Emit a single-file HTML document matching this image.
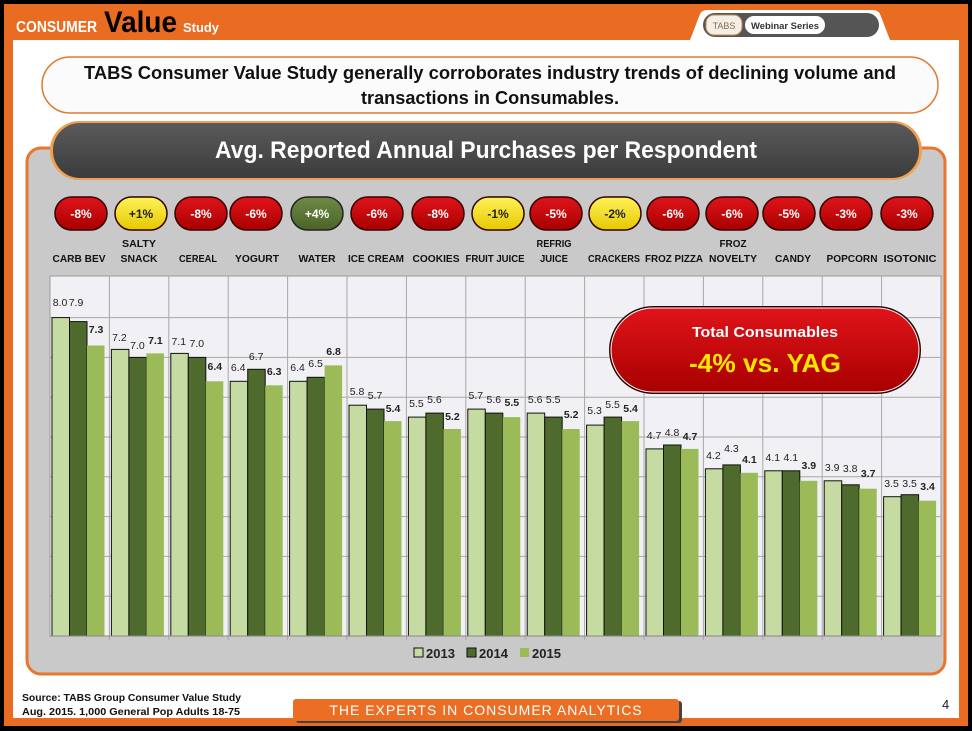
<!DOCTYPE html>
<html><head><meta charset="utf-8"><style>
html,body{margin:0;padding:0;background:#000;}
svg{display:block;font-family:"Liberation Sans",sans-serif;}
</style></head><body>
<svg width="972" height="731" viewBox="0 0 972 731" xmlns="http://www.w3.org/2000/svg">
<defs>
<linearGradient id="red" x1="0" y1="0" x2="0" y2="1"><stop offset="0" stop-color="#e0141a"/><stop offset="1" stop-color="#a80000"/></linearGradient>
<linearGradient id="yel" x1="0" y1="0" x2="0" y2="1"><stop offset="0" stop-color="#fff35a"/><stop offset="1" stop-color="#e6c800"/></linearGradient>
<linearGradient id="grn" x1="0" y1="0" x2="0" y2="1"><stop offset="0" stop-color="#6f8a45"/><stop offset="1" stop-color="#4a6428"/></linearGradient>
<linearGradient id="dark" x1="0" y1="0" x2="0" y2="1"><stop offset="0" stop-color="#5a5a5a"/><stop offset="1" stop-color="#3c3c3c"/></linearGradient>
</defs>
<rect x="0" y="0" width="972" height="731" fill="#000"/>
<rect x="4" y="4" width="964" height="722" fill="#ea6c22"/>
<rect x="13" y="40" width="946" height="678" fill="#fff"/>
<path d="M690 40 L700 14 Q702 10 708 10 L872 10 Q878 10 880 14 L890 40 Z" fill="#fff"/>
<rect x="703" y="13" width="176" height="24" rx="12" fill="#555"/>
<rect x="706" y="15" width="36" height="20" rx="8" fill="#f3efe6" stroke="#c48a50"/>
<text x="724" y="29" font-size="9" text-anchor="middle" fill="#8a6a4a">TABS</text>
<rect x="745" y="16" width="80" height="18" rx="9" fill="#fff"/>
<text x="785" y="29" font-size="9" font-weight="bold" text-anchor="middle" fill="#333" textLength="68" lengthAdjust="spacingAndGlyphs">Webinar Series</text>
<text x="16" y="32" fill="#fff" font-weight="bold" font-size="16" textLength="81" lengthAdjust="spacingAndGlyphs">CONSUMER</text>
<text x="104" y="32" fill="#000" font-weight="bold" font-size="30" textLength="73" lengthAdjust="spacingAndGlyphs">Value</text>
<text x="183" y="32" fill="#fff" font-weight="bold" font-size="13" textLength="36" lengthAdjust="spacingAndGlyphs">Study</text>
<rect x="42" y="57" width="896" height="56" rx="28" fill="#fbfbfb" stroke="#e07a30" stroke-width="1.5"/>
<text x="490" y="79" font-size="18" font-weight="bold" text-anchor="middle" fill="#111" textLength="812" lengthAdjust="spacingAndGlyphs">TABS Consumer Value Study generally corroborates industry trends of declining volume and</text>
<text x="490" y="104" font-size="18" font-weight="bold" text-anchor="middle" fill="#111" textLength="258" lengthAdjust="spacingAndGlyphs">transactions in Consumables.</text>
<rect x="27" y="148" width="918" height="526" rx="14" fill="#c9c9c9" stroke="#e8762c" stroke-width="3"/>
<rect x="50" y="121" width="872" height="59" rx="29" fill="#f0a050"/>
<rect x="53" y="123" width="866" height="55" rx="27" fill="url(#dark)"/>
<text x="486" y="158" font-size="24" font-weight="bold" text-anchor="middle" fill="#fff" textLength="542" lengthAdjust="spacingAndGlyphs">Avg. Reported Annual Purchases per Respondent</text>
<g font-size="12" font-weight="bold" text-anchor="middle">
<rect x="55" y="197" width="52" height="33" rx="16.5" fill="url(#red)" stroke="#300" stroke-width="1.5"/><text x="81" y="218" fill="#fff">-8%</text>
<rect x="115" y="197" width="52" height="33" rx="16.5" fill="url(#yel)" stroke="#300" stroke-width="1.5"/><text x="141" y="218" fill="#222">+1%</text>
<rect x="175" y="197" width="52" height="33" rx="16.5" fill="url(#red)" stroke="#300" stroke-width="1.5"/><text x="201" y="218" fill="#fff">-8%</text>
<rect x="230" y="197" width="52" height="33" rx="16.5" fill="url(#red)" stroke="#300" stroke-width="1.5"/><text x="256" y="218" fill="#fff">-6%</text>
<rect x="291" y="197" width="52" height="33" rx="16.5" fill="url(#grn)" stroke="#222" stroke-width="1.5"/><text x="317" y="218" fill="#fff">+4%</text>
<rect x="351" y="197" width="52" height="33" rx="16.5" fill="url(#red)" stroke="#300" stroke-width="1.5"/><text x="377" y="218" fill="#fff">-6%</text>
<rect x="412" y="197" width="52" height="33" rx="16.5" fill="url(#red)" stroke="#300" stroke-width="1.5"/><text x="438" y="218" fill="#fff">-8%</text>
<rect x="472" y="197" width="52" height="33" rx="16.5" fill="url(#yel)" stroke="#300" stroke-width="1.5"/><text x="498" y="218" fill="#222">-1%</text>
<rect x="530" y="197" width="52" height="33" rx="16.5" fill="url(#red)" stroke="#300" stroke-width="1.5"/><text x="556" y="218" fill="#fff">-5%</text>
<rect x="589" y="197" width="52" height="33" rx="16.5" fill="url(#yel)" stroke="#300" stroke-width="1.5"/><text x="615" y="218" fill="#222">-2%</text>
<rect x="647" y="197" width="52" height="33" rx="16.5" fill="url(#red)" stroke="#300" stroke-width="1.5"/><text x="673" y="218" fill="#fff">-6%</text>
<rect x="706" y="197" width="52" height="33" rx="16.5" fill="url(#red)" stroke="#300" stroke-width="1.5"/><text x="732" y="218" fill="#fff">-6%</text>
<rect x="763" y="197" width="52" height="33" rx="16.5" fill="url(#red)" stroke="#300" stroke-width="1.5"/><text x="789" y="218" fill="#fff">-5%</text>
<rect x="820" y="197" width="52" height="33" rx="16.5" fill="url(#red)" stroke="#300" stroke-width="1.5"/><text x="846" y="218" fill="#fff">-3%</text>
<rect x="881" y="197" width="52" height="33" rx="16.5" fill="url(#red)" stroke="#300" stroke-width="1.5"/><text x="907" y="218" fill="#fff">-3%</text>
</g>
<g font-size="10.5" font-weight="bold" text-anchor="middle" fill="#111" lengthAdjust="spacingAndGlyphs">
<text x="79" y="262" textLength="53" lengthAdjust="spacingAndGlyphs">CARB BEV</text>
<text x="139" y="247" textLength="34" lengthAdjust="spacingAndGlyphs">SALTY</text><text x="139" y="262" textLength="37" lengthAdjust="spacingAndGlyphs">SNACK</text>
<text x="198" y="262" textLength="38" lengthAdjust="spacingAndGlyphs">CEREAL</text>
<text x="257" y="262" textLength="44" lengthAdjust="spacingAndGlyphs">YOGURT</text>
<text x="317" y="262" textLength="37" lengthAdjust="spacingAndGlyphs">WATER</text>
<text x="376" y="262" textLength="56" lengthAdjust="spacingAndGlyphs">ICE CREAM</text>
<text x="436" y="262" textLength="47" lengthAdjust="spacingAndGlyphs">COOKIES</text>
<text x="495" y="262" textLength="59" lengthAdjust="spacingAndGlyphs">FRUIT JUICE</text>
<text x="554" y="247" textLength="35" lengthAdjust="spacingAndGlyphs">REFRIG</text><text x="554" y="262" textLength="28" lengthAdjust="spacingAndGlyphs">JUICE</text>
<text x="614" y="262" textLength="52" lengthAdjust="spacingAndGlyphs">CRACKERS</text>
<text x="674" y="262" textLength="58" lengthAdjust="spacingAndGlyphs">FROZ PIZZA</text>
<text x="733" y="247" textLength="27" lengthAdjust="spacingAndGlyphs">FROZ</text><text x="733" y="262" textLength="48" lengthAdjust="spacingAndGlyphs">NOVELTY</text>
<text x="793" y="262" textLength="36" lengthAdjust="spacingAndGlyphs">CANDY</text>
<text x="852" y="262" textLength="51" lengthAdjust="spacingAndGlyphs">POPCORN</text>
<text x="910" y="262" textLength="53" lengthAdjust="spacingAndGlyphs">ISOTONIC</text>
</g>
<rect x="50" y="276" width="891" height="360" fill="#f1f0f4" stroke="#9a9a9a"/>
<g stroke="#a8a8a8" stroke-width="1">
<line x1="50" x2="941" y1="596.2" y2="596.2"/><line x1="50" x2="941" y1="556.4" y2="556.4"/><line x1="50" x2="941" y1="516.6" y2="516.6"/><line x1="50" x2="941" y1="476.8" y2="476.8"/><line x1="50" x2="941" y1="437" y2="437"/><line x1="50" x2="941" y1="397.2" y2="397.2"/><line x1="50" x2="941" y1="357.4" y2="357.4"/><line x1="50" x2="941" y1="317.6" y2="317.6"/>
<line x1="109.4" x2="109.4" y1="276" y2="640"/><line x1="168.8" x2="168.8" y1="276" y2="640"/><line x1="228.2" x2="228.2" y1="276" y2="640"/><line x1="287.6" x2="287.6" y1="276" y2="640"/><line x1="347" x2="347" y1="276" y2="640"/><line x1="406.4" x2="406.4" y1="276" y2="640"/><line x1="465.8" x2="465.8" y1="276" y2="640"/><line x1="525.2" x2="525.2" y1="276" y2="640"/><line x1="584.6" x2="584.6" y1="276" y2="640"/><line x1="644" x2="644" y1="276" y2="640"/><line x1="703.4" x2="703.4" y1="276" y2="640"/><line x1="762.8" x2="762.8" y1="276" y2="640"/><line x1="822.2" x2="822.2" y1="276" y2="640"/><line x1="881.6" x2="881.6" y1="276" y2="640"/>
</g>
<g font-size="10.5" text-anchor="middle" fill="#222">
<g transform="translate(50,0)"><rect x="2" y="317.6" width="17.5" height="318.4" fill="#c6dba2" stroke="#111"/><rect x="19.5" y="321.6" width="17.5" height="314.4" fill="#4e6a2c" stroke="#111"/><rect x="37" y="345.5" width="17.5" height="290.5" fill="#9bbb59"/><text x="10" y="306">8.0</text><text x="26" y="306">7.9</text><text x="46" y="333" font-weight="bold">7.3</text></g>
<g transform="translate(109.4,0)"><rect x="2" y="349.4" width="17.5" height="286.6" fill="#c6dba2" stroke="#111"/><rect x="19.5" y="357.4" width="17.5" height="278.6" fill="#4e6a2c" stroke="#111"/><rect x="37" y="353.4" width="17.5" height="282.6" fill="#9bbb59"/><text x="10" y="341">7.2</text><text x="28" y="349">7.0</text><text x="46" y="344" font-weight="bold">7.1</text></g>
<g transform="translate(168.8,0)"><rect x="2" y="353.4" width="17.5" height="282.6" fill="#c6dba2" stroke="#111"/><rect x="19.5" y="357.4" width="17.5" height="278.6" fill="#4e6a2c" stroke="#111"/><rect x="37" y="381.3" width="17.5" height="254.7" fill="#9bbb59"/><text x="10" y="345">7.1</text><text x="28" y="347">7.0</text><text x="46" y="370" font-weight="bold">6.4</text></g>
<g transform="translate(228.2,0)"><rect x="2" y="381.3" width="17.5" height="254.7" fill="#c6dba2" stroke="#111"/><rect x="19.5" y="369.3" width="17.5" height="266.7" fill="#4e6a2c" stroke="#111"/><rect x="37" y="385.3" width="17.5" height="250.7" fill="#9bbb59"/><text x="10" y="371">6.4</text><text x="28" y="360">6.7</text><text x="46" y="375" font-weight="bold">6.3</text></g>
<g transform="translate(287.6,0)"><rect x="2" y="381.3" width="17.5" height="254.7" fill="#c6dba2" stroke="#111"/><rect x="19.5" y="377.3" width="17.5" height="258.7" fill="#4e6a2c" stroke="#111"/><rect x="37" y="365.4" width="17.5" height="270.6" fill="#9bbb59"/><text x="10" y="371">6.4</text><text x="28" y="367">6.5</text><text x="46" y="355" font-weight="bold">6.8</text></g>
<g transform="translate(347,0)"><rect x="2" y="405.2" width="17.5" height="230.8" fill="#c6dba2" stroke="#111"/><rect x="19.5" y="409.1" width="17.5" height="226.9" fill="#4e6a2c" stroke="#111"/><rect x="37" y="421.1" width="17.5" height="214.9" fill="#9bbb59"/><text x="10" y="395">5.8</text><text x="28" y="399">5.7</text><text x="46" y="412" font-weight="bold">5.4</text></g>
<g transform="translate(406.4,0)"><rect x="2" y="417.1" width="17.5" height="218.9" fill="#c6dba2" stroke="#111"/><rect x="19.5" y="413.1" width="17.5" height="222.9" fill="#4e6a2c" stroke="#111"/><rect x="37" y="429" width="17.5" height="207" fill="#9bbb59"/><text x="10" y="407">5.5</text><text x="28" y="403">5.6</text><text x="46" y="420" font-weight="bold">5.2</text></g>
<g transform="translate(465.8,0)"><rect x="2" y="409.1" width="17.5" height="226.9" fill="#c6dba2" stroke="#111"/><rect x="19.5" y="413.1" width="17.5" height="222.9" fill="#4e6a2c" stroke="#111"/><rect x="37" y="417.1" width="17.5" height="218.9" fill="#9bbb59"/><text x="10" y="399">5.7</text><text x="28" y="403">5.6</text><text x="46" y="406" font-weight="bold">5.5</text></g>
<g transform="translate(525.2,0)"><rect x="2" y="413.1" width="17.5" height="222.9" fill="#c6dba2" stroke="#111"/><rect x="19.5" y="417.1" width="17.5" height="218.9" fill="#4e6a2c" stroke="#111"/><rect x="37" y="429" width="17.5" height="207" fill="#9bbb59"/><text x="10" y="403">5.6</text><text x="28" y="403">5.5</text><text x="46" y="418" font-weight="bold">5.2</text></g>
<g transform="translate(584.6,0)"><rect x="2" y="425.1" width="17.5" height="210.9" fill="#c6dba2" stroke="#111"/><rect x="19.5" y="417.1" width="17.5" height="218.9" fill="#4e6a2c" stroke="#111"/><rect x="37" y="421.1" width="17.5" height="214.9" fill="#9bbb59"/><text x="10" y="414">5.3</text><text x="28" y="408">5.5</text><text x="46" y="412" font-weight="bold">5.4</text></g>
<g transform="translate(644,0)"><rect x="2" y="448.9" width="17.5" height="187.1" fill="#c6dba2" stroke="#111"/><rect x="19.5" y="445" width="17.5" height="191" fill="#4e6a2c" stroke="#111"/><rect x="37" y="448.9" width="17.5" height="187.1" fill="#9bbb59"/><text x="10" y="439">4.7</text><text x="28" y="436">4.8</text><text x="46" y="440" font-weight="bold">4.7</text></g>
<g transform="translate(703.4,0)"><rect x="2" y="468.8" width="17.5" height="167.2" fill="#c6dba2" stroke="#111"/><rect x="19.5" y="464.9" width="17.5" height="171.1" fill="#4e6a2c" stroke="#111"/><rect x="37" y="472.8" width="17.5" height="163.2" fill="#9bbb59"/><text x="10" y="459">4.2</text><text x="28" y="452">4.3</text><text x="46" y="463" font-weight="bold">4.1</text></g>
<g transform="translate(762.8,0)"><rect x="2" y="470.8" width="17.5" height="165.2" fill="#c6dba2" stroke="#111"/><rect x="19.5" y="470.8" width="17.5" height="165.2" fill="#4e6a2c" stroke="#111"/><rect x="37" y="480.8" width="17.5" height="155.2" fill="#9bbb59"/><text x="10" y="461">4.1</text><text x="28" y="461">4.1</text><text x="46" y="469" font-weight="bold">3.9</text></g>
<g transform="translate(822.2,0)"><rect x="2" y="480.8" width="17.5" height="155.2" fill="#c6dba2" stroke="#111"/><rect x="19.5" y="484.8" width="17.5" height="151.2" fill="#4e6a2c" stroke="#111"/><rect x="37" y="488.7" width="17.5" height="147.3" fill="#9bbb59"/><text x="10" y="471">3.9</text><text x="28" y="472">3.8</text><text x="46" y="477" font-weight="bold">3.7</text></g>
<g transform="translate(881.6,0)"><rect x="2" y="496.7" width="17.5" height="139.3" fill="#c6dba2" stroke="#111"/><rect x="19.5" y="494.7" width="17.5" height="141.3" fill="#4e6a2c" stroke="#111"/><rect x="37" y="500.7" width="17.5" height="135.3" fill="#9bbb59"/><text x="10" y="487">3.5</text><text x="28" y="487">3.5</text><text x="46" y="490" font-weight="bold">3.4</text></g>
</g>
<line x1="50" x2="941" y1="636" y2="636" stroke="#888"/>
<rect x="609" y="306" width="312" height="88" rx="44" fill="#300"/>
<rect x="611" y="308" width="308" height="84" rx="42" fill="url(#red)" stroke="#fff" stroke-width="1"/>
<text x="765" y="337" font-size="15" font-weight="bold" fill="#fff" text-anchor="middle" textLength="146" lengthAdjust="spacingAndGlyphs">Total Consumables</text>
<text x="765" y="372" font-size="26" font-weight="bold" fill="#ffe600" text-anchor="middle" textLength="152" lengthAdjust="spacingAndGlyphs">-4% vs. YAG</text>
<g font-size="13" font-weight="bold" fill="#222">
<rect x="414" y="648" width="9" height="9" fill="#c6dba2" stroke="#111"/><text x="426" y="658">2013</text>
<rect x="467" y="648" width="9" height="9" fill="#4e6a2c" stroke="#111"/><text x="479" y="658">2014</text>
<rect x="520" y="648" width="9" height="9" fill="#9bbb59"/><text x="532" y="658">2015</text>
</g>
<text x="22" y="701" font-size="10.5" font-weight="bold" fill="#111" textLength="219" lengthAdjust="spacingAndGlyphs">Source:  TABS Group Consumer Value Study</text>
<text x="22" y="715" font-size="10.5" font-weight="bold" fill="#111" textLength="218" lengthAdjust="spacingAndGlyphs">Aug. 2015.  1,000  General Pop Adults 18-75</text>
<rect x="296" y="701" width="386" height="22" rx="3" fill="#444"/>
<rect x="293" y="699" width="386" height="22" rx="3" fill="#ec6e24"/>
<text x="486" y="715" font-size="14" fill="#fff" text-anchor="middle" letter-spacing="1">THE EXPERTS IN CONSUMER ANALYTICS</text>
<text x="942" y="709" font-size="13" fill="#222">4</text>
</svg>
</body></html>
